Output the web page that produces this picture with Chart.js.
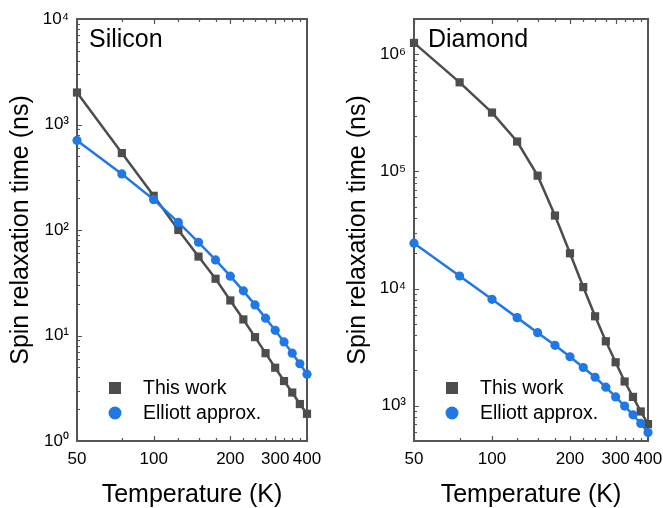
<!DOCTYPE html>
<html>
<head>
<meta charset="utf-8">
<script src="https://cdn.jsdelivr.net/npm/chart.js@4.4.1/dist/chart.umd.min.js"></script>
<style>
html, body { margin: 0; padding: 0; background: #fff; overflow: hidden; }
#wrap { position: relative; width: 663px; height: 508px; }
.panel { position: absolute; top: 0; height: 508px; }
</style>
</head>
<body>
<div id="wrap">
  <div class="panel" style="left:0;width:331px"><canvas id="silicon"></canvas></div>
  <div class="panel" style="left:331px;width:332px"><canvas id="diamond"></canvas></div>
</div>
<script>
// temperatures (K)
const temperatures = [50, 75, 100, 125, 150, 175, 200, 225, 250, 275, 300, 325, 350, 375, 400];
const tempTicks = [50, 75, 100, 125, 150, 175, 200, 225, 250, 275, 300, 325, 350, 375, 400];
const tempLabels = [50, 100, 200, 300, 400];

// spin relaxation time (ns)
const siThisWork = [2010, 536, 211, 100, 56, 34.5, 21.5, 14.2, 9.65, 6.8, 4.95, 3.7, 2.88, 2.24, 1.81];
const siElliott = [706, 340, 194, 118, 76.5, 52, 36.5, 26.5, 19.5, 14.6, 11.2, 8.7, 6.8, 5.4, 4.3];
const diaThisWork = [1.25e6, 5.76e5, 3.18e5, 1.80e5, 9.2e4, 4.2e4, 2.0e4, 1.03e4, 5.8e3, 3.55e3, 2.35e3, 1.61e3, 1.19e3, 893, 697];
const diaElliott = [2.44e4, 1.28e4, 8.1e3, 5.65e3, 4.2e3, 3.28e3, 2.62e3, 2.12e3, 1.75e3, 1.44e3, 1.19e3, 993, 837, 706, 591];

const siDecades = [1, 10, 100, 1000, 10000];
const diaDecades = [100, 1000, 10000, 100000, 1000000];

const GRAY = '#4d4d4d';
const BLUE = '#1f78e4';
const FONT = '"Liberation Sans", Arial, sans-serif';
const SUP = {'0': '⁰', '1': '¹', '2': '²', '3': '³', '4': '⁴', '5': '⁵', '6': '⁶'};

function isDecade(v) {
    const e = Math.log10(v);
    return Math.abs(e - Math.round(e)) < 1e-6;
}

function yTickValues(decades, min, max) {
    const out = [];
    decades.forEach(function (d) {
        for (let m = 1; m < 10; m++) {
            const v = d * m;
            if (v >= min * 0.9999 && v <= max * 1.0001) out.push({value: v});
        }
    });
    return out;
}

const framePlugin = {
    id: 'frame',
    beforeDatasetsDraw(chart) {
        const {ctx, chartArea: a, scales: {x, y}} = chart;
        ctx.save();
        ctx.strokeStyle = '#555';
        ctx.lineWidth = 1.2;
        ctx.beginPath();
        x.ticks.forEach(function (t) {
            const px = Math.round(x.getPixelForValue(t.value)) + 0.5;
            const len = tempLabels.includes(t.value) ? 5 : 3;
            ctx.moveTo(px, a.bottom);
            ctx.lineTo(px, a.bottom - len);
            ctx.moveTo(px, a.top);
            ctx.lineTo(px, a.top + len);
        });
        y.ticks.forEach(function (t) {
            const py = Math.round(y.getPixelForValue(t.value)) + 0.5;
            const len = isDecade(t.value) ? 5 : 3;
            ctx.moveTo(a.left, py);
            ctx.lineTo(a.left + len, py);
        });
        ctx.stroke();
        ctx.lineWidth = 2;
        ctx.strokeStyle = '#555';
        ctx.strokeRect(a.left, a.top, a.right - a.left, a.bottom - a.top);
        ctx.restore();
    },
    afterDraw(chart, args, opts) {
        const {ctx, chartArea: a} = chart;
        ctx.save();
        ctx.fillStyle = '#000';
        ctx.textBaseline = 'middle';
        ctx.font = '25px ' + FONT;
        ctx.fillText(opts.title, a.left + opts.titleDx, a.top + 21);

        // legend
        ctx.font = '19.5px ' + FONT;
        chart.data.datasets.forEach(function (ds, i) {
            const mx = a.left + 38;
            const my = a.bottom - 53 + i * 25;
            ctx.fillStyle = ds.backgroundColor;
            if (ds.pointStyle === 'rect') {
                ctx.fillRect(mx - 6, my - 6, 12, 12);
            } else {
                ctx.beginPath();
                ctx.arc(mx, my, 6.5, 0, Math.PI * 2);
                ctx.fill();
            }
            ctx.fillStyle = '#000';
            ctx.fillText(ds.label, mx + 28, my + 1);
        });
        ctx.restore();
    }
};

function makeChart(id, thisWork, elliott, decades, yMin, yMax, title, titleDx, yWidth, yTitlePad, rightPad) {
    const ctx = document.getElementById(id).getContext('2d');
    return new Chart(ctx, {
        type: 'line',
        data: {
            labels: temperatures,
            datasets: [
                {
                    label: 'This work',
                    data: thisWork,
                    borderColor: GRAY,
                    backgroundColor: GRAY,
                    borderWidth: 2.5,
                    pointStyle: 'rect',
                    pointRadius: 5.8,
                    pointBorderWidth: 0,
                    clip: false,
                    order: 1,
                }, {
                    label: 'Elliott approx.',
                    data: elliott,
                    borderColor: BLUE,
                    backgroundColor: BLUE,
                    borderWidth: 2.5,
                    pointStyle: 'circle',
                    pointRadius: 4.6,
                    pointBorderWidth: 0,
                    clip: false,
                    order: 0,
                }
            ]
        },
        options: {
            responsive: true,
            maintainAspectRatio: false,
            animation: false,
            layout: {
                padding: {top: 19, right: rightPad, left: 0, bottom: 0}
            },
            plugins: {
                legend: {display: false},
                tooltip: {enabled: false},
                frame: {title: title, titleDx: titleDx},
            },
            scales: {
                x: {
                    type: 'logarithmic',
                    min: 50,
                    max: 400,
                    afterBuildTicks: function (scale) {
                        scale.ticks = tempTicks.map(function (v) { return {value: v}; });
                    },
                    afterFit: function (scale) {
                        scale.height = 67;
                        scale.paddingLeft = 0;
                        scale.paddingRight = 0;
                    },
                    grid: {display: false, drawTicks: false},
                    border: {display: false},
                    ticks: {
                        autoSkip: false,
                        maxRotation: 0,
                        padding: 8,
                        color: '#000',
                        font: {family: FONT, size: 17},
                        callback: function (v) { return tempLabels.includes(v) ? String(v) : ''; }
                    },
                    title: {
                        display: true,
                        text: 'Temperature (K)',
                        color: '#000',
                        font: {family: FONT, size: 25, lineHeight: 1.0},
                        padding: {top: 0, bottom: 0}
                    }
                },
                y: {
                    type: 'logarithmic',
                    min: yMin,
                    max: yMax,
                    afterBuildTicks: function (scale) {
                        scale.ticks = yTickValues(decades, yMin, yMax);
                    },
                    afterFit: function (scale) {
                        scale.width = yWidth;
                        scale.paddingTop = 0;
                        scale.paddingBottom = 0;
                    },
                    grid: {display: false, drawTicks: false},
                    border: {display: false},
                    ticks: {
                        autoSkip: false,
                        padding: 8,
                        color: '#000',
                        font: {family: FONT, size: 17},
                        callback: function (v) {
                            if (!isDecade(v)) return '';
                            return '10' + String(Math.round(Math.log10(v))).split('').map(function (c) { return SUP[c]; }).join('');
                        }
                    },
                    title: {
                        display: true,
                        text: 'Spin relaxation time (ns)',
                        color: '#000',
                        font: {family: FONT, size: 25},
                        padding: {top: yTitlePad, bottom: 0}
                    }
                }
            }
        },
        plugins: [framePlugin]
    });
}

makeChart('silicon', siThisWork, siElliott, siDecades, 1, 10000, 'Silicon', 12, 77, 6, 24);
makeChart('diamond', diaThisWork, diaElliott, diaDecades, 500, 2e6, 'Diamond', 14, 83, 12, 15);
</script>
</body>
</html>
